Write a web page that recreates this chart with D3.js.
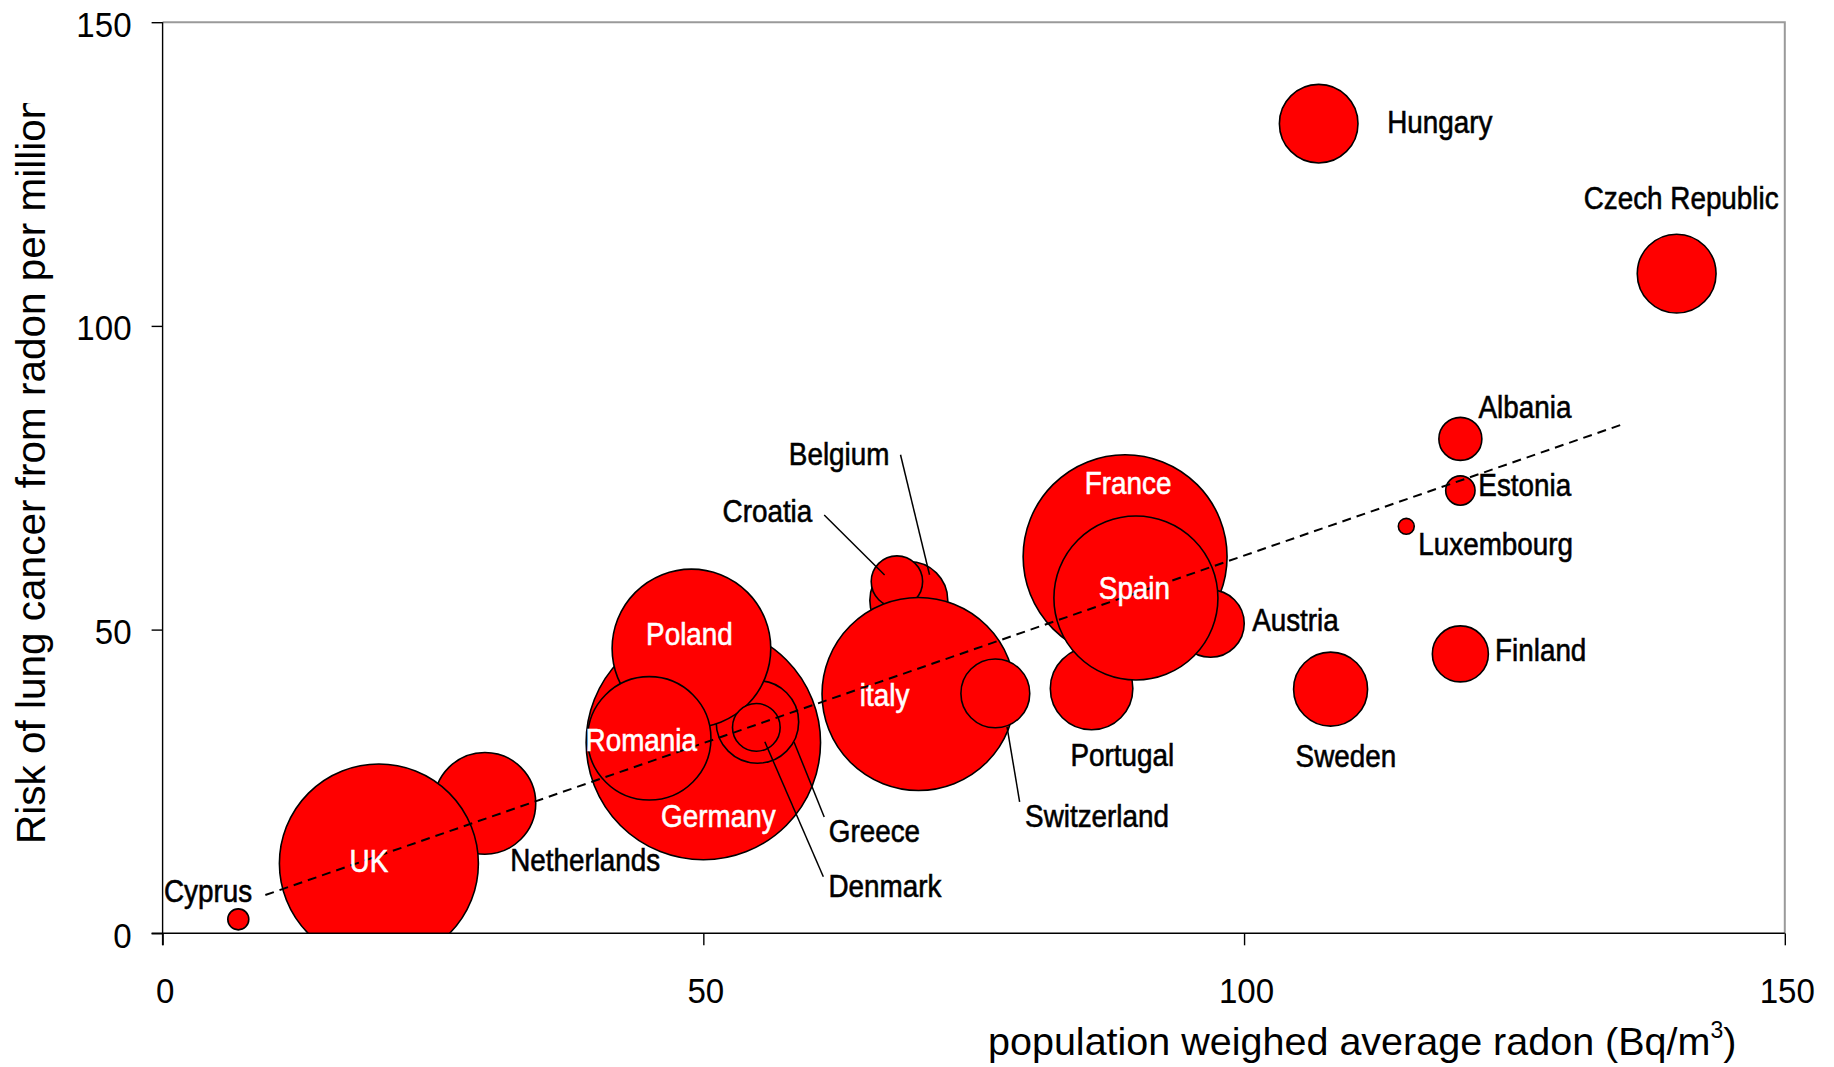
<!DOCTYPE html>
<html>
<head>
<meta charset="utf-8">
<script src="https://cdn.jsdelivr.net/npm/d3@7"></script>
<style>
  html, body { margin: 0; padding: 0; background: #fff; }
  svg { display: block; font-family: "Liberation Sans", Arial, Helvetica, sans-serif; }
</style>
</head>
<body>
<svg id="chart" width="1834" height="1067"></svg>
<script>
// Countries in drawing order (later ones sit on top of earlier ones)
const countries = ["Czech Republic", "Hungary", "Albania", "Estonia", "Luxembourg", "Finland",
  "Sweden", "France", "Austria", "Portugal", "Spain", "Belgium", "Croatia", "Italy",
  "Switzerland", "Germany", "Greece", "Poland", "Denmark", "Romania", "Netherlands", "UK", "Cyprus"];
// population weighed average radon, Bq/m3
const radon = [140, 106.9, 120, 120, 115, 120, 108, 89, 96.9, 85.9, 90, 69, 67.9, 69.9,
  77, 50, 55, 48.9, 54.9, 45, 29.8, 20, 7];
// risk of lung cancer from radon per million
const risk = [108.6, 133.3, 81.4, 72.9, 67.0, 46.0, 40.2, 62.0, 51.0, 40.3, 55.2, 54.8, 57.9, 39.4,
  39.5, 31.4, 34.8, 46.9, 33.9, 32.1, 21.4, 11.5, 2.3];
// population, millions (bubble size)
const population = [9.3, 9.25, 2.77, 1.29, 0.38, 4.7, 8.2, 62.3, 6.8, 10.2, 40.3, 9.1, 3.96, 55.8,
  7.1, 82.3, 10.2, 37.7, 3.4, 22.8, 15.5, 59.3, 0.66];

const xTicks = [0, 50, 100, 150];
const yTicks = [0, 50, 100, 150];

// trend line end points
const trendRadon = [9.5, 135];
const trendRisk = [6.3, 83.8];

// label placement relative to each bubble centre (pixels)
const labelLayout = {
  "Czech Republic": { anchor: "middle", dx: 4.5, dy: -65 },
  "Hungary":        { anchor: "start", dx: 68.5, dy: 9.5 },
  "Albania":        { anchor: "start", dx: 18.2, dy: -20.7 },
  "Estonia":        { anchor: "start", dx: 18, dy: 5 },
  "Luxembourg":     { anchor: "start", dx: 12, dy: 28.7 },
  "Finland":        { anchor: "start", dx: 34.7, dy: 7 },
  "Sweden":         { anchor: "middle", dx: 15.3, dy: 77.8 },
  "France":         { anchor: "middle", dx: 3, dy: -63, white: true },
  "Austria":        { anchor: "start", dx: 41.6, dy: 7.5 },
  "Portugal":       { anchor: "middle", dx: 30.8, dy: 77.9 },
  "Spain":          { anchor: "middle", dx: -1.5, dy: 0.7, white: true },
  "Belgium":        { anchor: "middle", dx: -69.7, dy: -135.7, leader: [-8.3, -145.7, 20.7, -25.7] },
  "Croatia":        { anchor: "middle", dx: -129.5, dy: -60, leader: [-72.7, -66.7, -12.3, -6.7] },
  "Italy":          { anchor: "middle", dx: -34, dy: 12, white: true, text: "italy" },
  "Switzerland":    { anchor: "middle", dx: 101.7, dy: 133.4, leader: [11.7, 33.4, 24.3, 108.4] },
  "Germany":        { anchor: "middle", dx: 15, dy: 84, white: true },
  "Greece":         { anchor: "start", dx: 71.4, dy: 120, leader: [36.6, 20, 66.8, 95] },
  "Poland":         { anchor: "middle", dx: -2, dy: -3, white: true },
  "Denmark":        { anchor: "start", dx: 72.1, dy: 169.4, leader: [8.5, 14.4, 67, 149.4] },
  "Romania":        { anchor: "middle", dx: -8, dy: 13, white: true },
  "Netherlands":    { anchor: "middle", dx: 100.3, dy: 68 },
  "UK":             { anchor: "middle", dx: -10, dy: 9, white: true },
  "Cyprus":         { anchor: "middle", dx: -30.3, dy: -17 }
};

const plotLeft = 162.6, plotTop = 22.2, plotRight = 1784.8, plotBottom = 933.3;

const svg = d3.select("#chart");

const x = d3.scaleLinear().domain([0, 150]).range([plotLeft, plotRight]);
const y = d3.scaleLinear().domain([0, 150]).range([plotBottom, plotTop]);
const r = d3.scaleSqrt().domain([0, 82.3]).range([0, 117.2]);

const data = countries.map((c, i) => ({ name: c, radon: radon[i], risk: risk[i], pop: population[i] }));

// clip for the plot area
svg.append("clipPath").attr("id", "plotClip")
  .append("rect").attr("x", plotLeft).attr("y", plotTop)
  .attr("width", plotRight - plotLeft).attr("height", plotBottom - plotTop);

// plot area frame (top and right edges)
svg.append("path")
  .attr("d", `M${plotLeft},${plotTop}H${plotRight}V${plotBottom}`)
  .attr("fill", "none").attr("stroke", "#9a9a9a").attr("stroke-width", 2);

// bubbles
svg.append("g").attr("clip-path", "url(#plotClip)")
  .selectAll("circle").data(data).join("circle")
  .attr("cx", d => x(d.radon))
  .attr("cy", d => y(d.risk))
  .attr("r", d => r(d.pop))
  .attr("fill", "#ff0000")
  .attr("stroke", "#000")
  .attr("stroke-width", 1.6);

// dashed trend line
svg.append("line")
  .attr("x1", x(trendRadon[0])).attr("y1", y(trendRisk[0]))
  .attr("x2", x(trendRadon[1])).attr("y2", y(trendRisk[1]))
  .attr("stroke", "#000").attr("stroke-width", 2)
  .attr("stroke-dasharray", "9,6");

// leader lines
const withLeaders = data.filter(d => labelLayout[d.name].leader);
svg.append("g").selectAll("line").data(withLeaders).join("line")
  .attr("x1", d => x(d.radon) + labelLayout[d.name].leader[0])
  .attr("y1", d => y(d.risk) + labelLayout[d.name].leader[1])
  .attr("x2", d => x(d.radon) + labelLayout[d.name].leader[2])
  .attr("y2", d => y(d.risk) + labelLayout[d.name].leader[3])
  .attr("stroke", "#000").attr("stroke-width", 1.5);

// country labels
svg.append("g").selectAll("text").data(data).join("text")
  .attr("transform", d => {
    const L = labelLayout[d.name];
    return `translate(${x(d.radon) + L.dx},${y(d.risk) + L.dy}) scale(0.87,1)`;
  })
  .attr("text-anchor", d => labelLayout[d.name].anchor)
  .attr("font-size", 32)
  .attr("fill", d => labelLayout[d.name].white ? "#fff" : "#000")
  .attr("stroke", d => labelLayout[d.name].white ? "#fff" : "#000")
  .attr("stroke-width", 0.6)
  .text(d => labelLayout[d.name].text || d.name);

// axes
const xAxis = svg.append("g").attr("transform", `translate(0,${plotBottom})`)
  .call(d3.axisBottom(x).tickValues(xTicks).tickSize(12).tickSizeOuter(0).tickFormat(d3.format("d")));
const yAxis = svg.append("g").attr("transform", `translate(${plotLeft},0)`)
  .call(d3.axisLeft(y).tickValues(yTicks).tickSize(11).tickSizeOuter(0).tickFormat(d3.format("d")));

[xAxis, yAxis].forEach(a => {
  a.select(".domain").attr("stroke", "#000").attr("stroke-width", 1.4);
  a.selectAll(".tick line").attr("stroke", "#000").attr("stroke-width", 1.4);
  a.selectAll(".tick text").attr("font-size", 36).attr("fill", "#000")
    .attr("font-family", '"Liberation Sans", Arial, sans-serif');
});
// axis lines reach across the tick marks at the origin
xAxis.select(".domain").attr("d", `M${plotLeft - 11},0H${plotRight}`);
yAxis.select(".domain").attr("d", `M0,${plotBottom + 12}V${plotTop}`);

xAxis.selectAll(".tick text")
  .attr("y", null).attr("dy", null)
  .attr("transform", "translate(2,70) scale(0.92,1)");
yAxis.selectAll(".tick text")
  .attr("x", null).attr("dy", "0.36em")
  .attr("text-anchor", "end")
  .attr("transform", "translate(-31,1) scale(0.92,1)");

// axis titles
svg.append("text")
  .attr("x", 988).attr("y", 1055)
  .attr("font-size", 39.5).attr("fill", "#000")
  .call(t => {
    t.append("tspan").text("population weighed average radon (Bq/m");
    t.append("tspan").attr("font-size", 23).attr("dy", -17).text("3");
    t.append("tspan").attr("dy", 17).text(")");
  });

svg.append("clipPath").attr("id", "yTitleClip")
  .append("rect").attr("x", 0).attr("y", 103).attr("width", 120).attr("height", 900);
svg.append("g").attr("clip-path", "url(#yTitleClip)")
  .append("text")
  .attr("transform", "translate(44.5,844) rotate(-90)")
  .attr("font-size", 40.5).attr("fill", "#000")
  .text("Risk of lung cancer from radon per million");
</script>
</body>
</html>
